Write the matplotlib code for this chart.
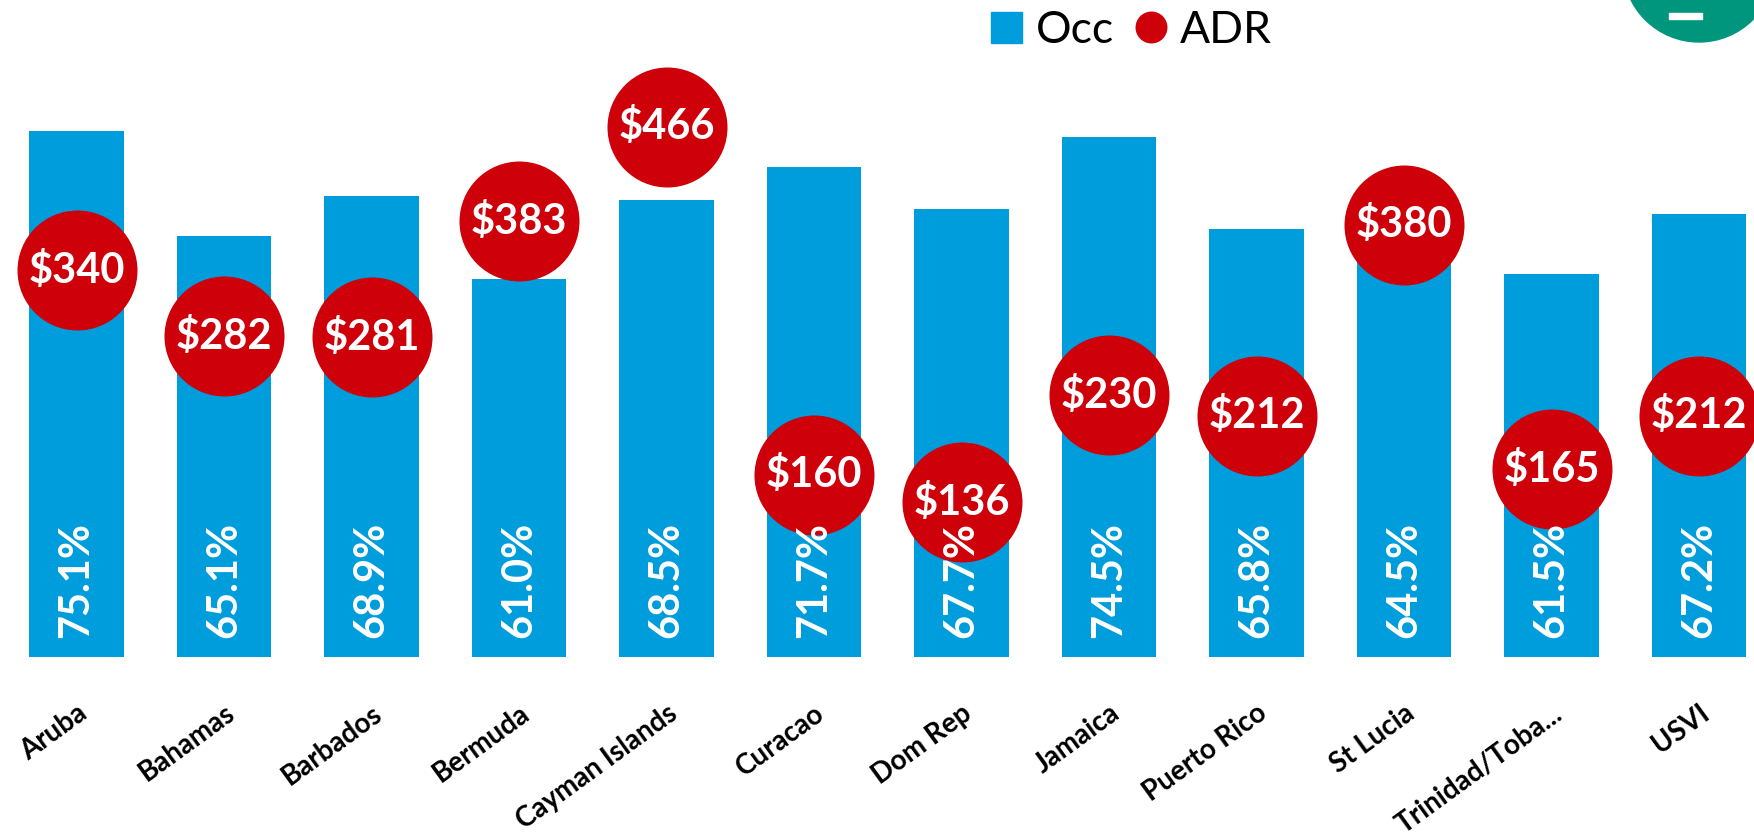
import matplotlib.pyplot as plt
from matplotlib.patches import Patch, Circle, Rectangle
from matplotlib.lines import Line2D

countries = ["Aruba", "Bahamas", "Barbados", "Bermuda", "Cayman Islands", "Curacao",
             "Dom Rep", "Jamaica", "Puerto Rico", "St Lucia", "Trinidad/Toba...", "USVI"]
occ = [75.1, 65.1, 68.9, 61.0, 68.5, 71.7, 67.7, 74.5, 65.8, 64.5, 61.5, 67.2]
adr = [340, 282, 281, 383, 466, 160, 136, 230, 212, 380, 165, 212]

blue = "#009DDC"
red = "#CE000A"

plt.rcParams["font.family"] = ["Lato", "DejaVu Sans"]

W, H = 1754, 838
fig = plt.figure(figsize=(W / 100, H / 100), dpi=100)

# axes placed in pixels: baseline at y=657 from top
ax = fig.add_axes([0, (H - 657) / H, 1, 597 / H])
ax2 = ax.twinx()

x = list(range(len(countries)))
ax.bar(x, occ, width=0.644, color=blue, zorder=2)
ax.set_xlim(-76.5 / 147.5, (W - 76.5) / 147.5)
ax.set_ylim(25, 25 + 597 / 10.5)
ax2.set_ylim(0, 597 / 1.138)

ax2.scatter(x, adr, s=7465, color=red, zorder=3, clip_on=False, linewidths=0)
for xi, v in zip(x, adr):
    ax2.text(xi, v, f"${v}", color="white", fontsize=30, fontweight="bold",
             ha="center", va="center", zorder=4)

# occupancy labels sit on top of everything
for xi, v in zip(x, occ):
    ax2.annotate(f"{v:.1f}%", (xi, 0), xytext=(0, 13.5), textcoords="offset points",
                 rotation=90, color="white", fontsize=30, fontweight="bold",
                 ha="center", va="bottom", zorder=5)

ax.set_xticks(x)
ax.set_xticklabels(countries, rotation=36, ha="right", rotation_mode="anchor",
                   fontsize=20, fontweight="bold")
ax.tick_params(axis="x", length=0, pad=31)
ax.set_yticks([])
ax2.set_yticks([])
for a in (ax, ax2):
    for s in a.spines.values():
        s.set_visible(False)
ax.patch.set_alpha(0)

handles = [Patch(color=blue, label="Occ"),
           Line2D([], [], marker="o", linestyle="none", markersize=23,
                  markerfacecolor=red, markeredgewidth=0, label="ADR")]
fig.legend(handles=handles, loc="upper left", bbox_to_anchor=(991 / W, 1 - 10 / H),
           ncol=2, frameon=False, fontsize=32, handlelength=0.7, handleheight=0.7,
           handletextpad=0.3, columnspacing=0.5, borderpad=0, borderaxespad=0)

# partial logo in the top right corner
fig.add_artist(Circle((16.99, 8.72), 0.76, transform=fig.dpi_scale_trans,
                      color="#00967D", zorder=1))
fig.add_artist(Rectangle((16.69, 8.19), 0.33, 0.06, transform=fig.dpi_scale_trans,
                         color="white", zorder=2))

fig.savefig("out.png", dpi=100)
